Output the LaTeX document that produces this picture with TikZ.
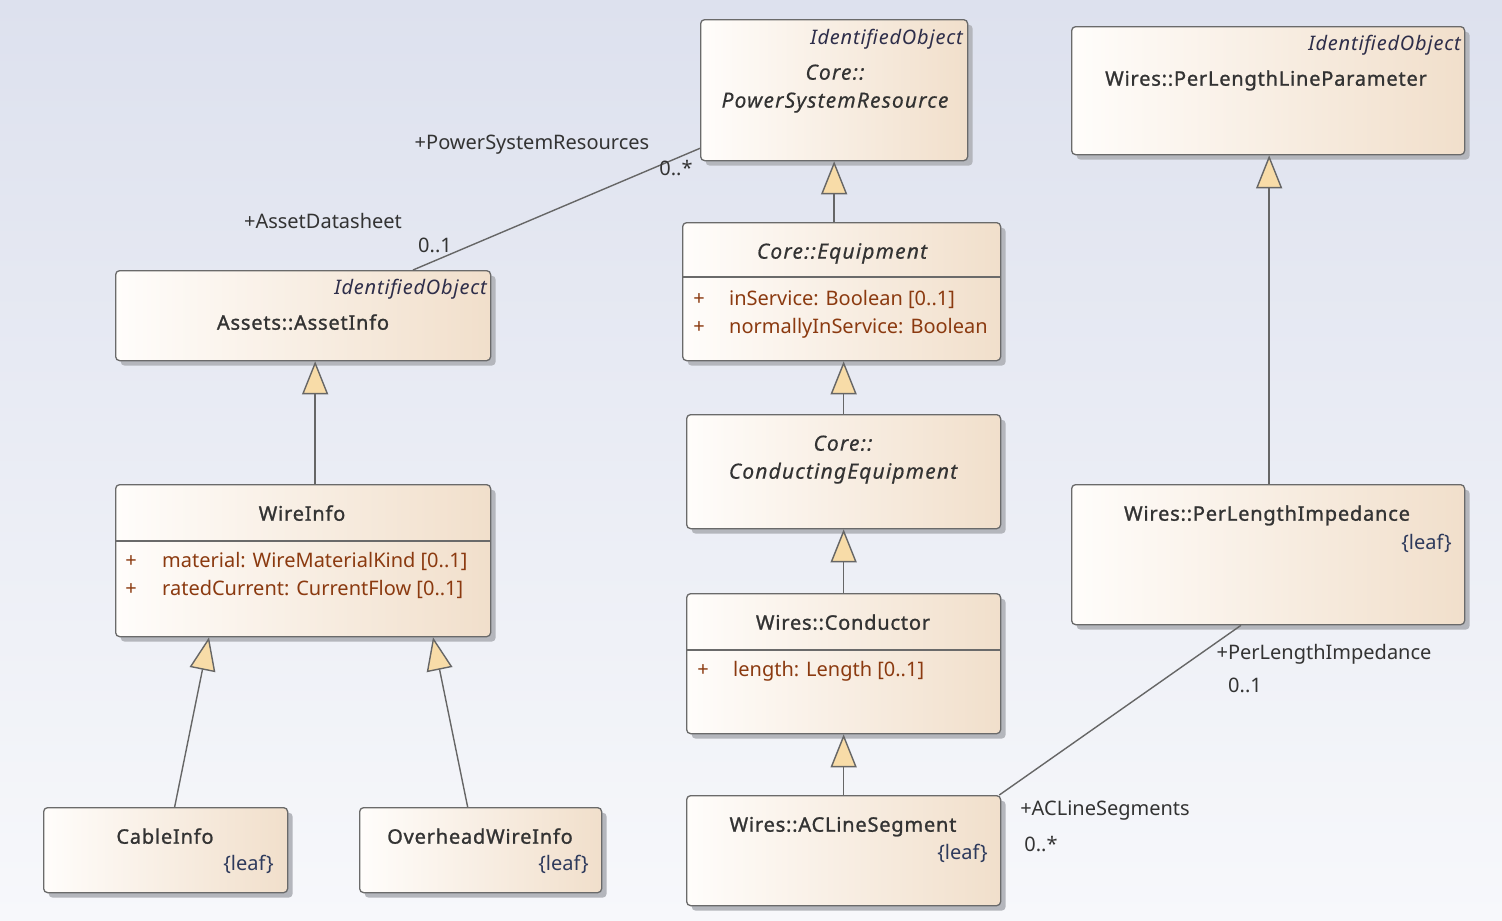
\documentclass[tikz,border=0pt]{standalone}
\usepackage{fontspec}
\setmainfont{Noto Sans}
\newfontfamily\titlefont[FakeBold=1.2, LetterSpace=4]{Noto Sans}
\newfontfamily\ititlefont[FakeBold=0.3, LetterSpace=5.5]{Noto Sans}
\newfontfamily\stereofont[LetterSpace=4]{Noto Sans}
\usetikzlibrary{arrows.meta,shadows,calc}
\definecolor{bgtop}{HTML}{DDE1EE}
\definecolor{bgbot}{HTML}{F7F8FB}
\definecolor{boxleft}{HTML}{FFFDFB}
\definecolor{boxright}{HTML}{F1DFCB}
\definecolor{boxdraw}{HTML}{6A6A6A}
\definecolor{shadowcol}{HTML}{B4B6BC}
\definecolor{titlecol}{HTML}{333333}
\definecolor{stereocol}{HTML}{2E2E4A}
\definecolor{leafcol}{HTML}{2E3A5C}
\definecolor{attrcol}{HTML}{8B3A10}
\definecolor{genfill}{HTML}{F8DCA8}
\definecolor{linecol}{HTML}{666666}

\begin{document}
\begin{tikzpicture}[x=1pt, y=-1pt,
    every node/.style={font=\fontsize{20}{24}\selectfont, inner sep=0pt},
    umlbox/.style={draw=boxdraw, line width=1.3pt, rounded corners=4pt,
      left color=boxleft, right color=boxright, anchor=north west,
      drop shadow={shadow xshift=5pt, shadow yshift=-5pt, fill=shadowcol, opacity=1}},
    txt/.style={yshift=-5pt},
    title/.style={txt, text=titlecol, anchor=mid, font=\fontsize{20}{24}\titlefont},
    ititle/.style={txt, text=titlecol, anchor=mid, font=\fontsize{21}{25}\ititlefont\itshape},
    stereo/.style={txt, text=stereocol, anchor=mid east, font=\fontsize{20}{24}\stereofont\itshape},
    leaf/.style={txt, text=leafcol, anchor=mid east},
    plus/.style={txt, text=attrcol, anchor=mid},
    attr/.style={txt, text=attrcol, anchor=mid west},
    role/.style={txt, text=titlecol, anchor=mid},
    sep/.style={draw=boxdraw, line width=1.3pt},
    gen/.style={draw=linecol, line width=1.4pt, -{Triangle[length=33pt, width=26pt, fill=genfill]}},
    assoc/.style={draw=linecol, line width=1.4pt}]

  % background
  \fill[top color=bgtop, bottom color=bgbot] (0,0) rectangle (1502,921);
  \useasboundingbox (0,0) rectangle (1502,921);

  % classes
  \node[umlbox, minimum width=267pt, minimum height=141pt] (psr) at (700,19) {};
  \node[umlbox, minimum width=318pt, minimum height=138pt] (equip) at (682,222) {};
  \node[umlbox, minimum width=314pt, minimum height=114pt] (condeq) at (686,414) {};
  \node[umlbox, minimum width=314pt, minimum height=140pt] (cond) at (686,593) {};
  \node[umlbox, minimum width=314pt, minimum height=110pt] (acls) at (686,795) {};
  \node[umlbox, minimum width=375pt, minimum height=90pt] (asset) at (115,270) {};
  \node[umlbox, minimum width=375pt, minimum height=152pt] (wire) at (115,484) {};
  \node[umlbox, minimum width=244pt, minimum height=85pt] (cable) at (43,807) {};
  \node[umlbox, minimum width=242pt, minimum height=85pt] (ohw) at (359,807) {};
  \node[umlbox, minimum width=393pt, minimum height=128pt] (pllp) at (1071,26) {};
  \node[umlbox, minimum width=393pt, minimum height=140pt] (pli) at (1071,484) {};

  % compartments
  \draw[sep] (equip.west |- 0,277) -- (equip.east |- 0,277);
  \draw[sep] (cond.west |- 0,650) -- (cond.east |- 0,650);
  \draw[sep] (wire.west |- 0,541) -- (wire.east |- 0,541);

  % texts
  \node[stereo] (psrst) at (963,37) {IdentifiedObject};
  \node[ititle] (psrpk) at (835,72) {Core::};
  \node[ititle] (psrnm) at (835,100) {PowerSystemResource};

  \node[ititle] (equipnm) at (842,251) {Core::Equipment};
  \node[plus] (equipp1) at (699,298) {+};
  \node[attr] (equipa1) at (729,298) {inService: Boolean [0..1]};
  \node[plus] (equipp2) at (699,326) {+};
  \node[attr] (equipa2) at (729,326) {normallyInService: Boolean};

  \node[ititle] (condeqpk) at (843,443) {Core::};
  \node[ititle] (condeqnm) at (843,471) {ConductingEquipment};

  \node[title] (condnm) at (843,622) {Wires::Conductor};
  \node[plus] (condp1) at (703,669) {+};
  \node[attr] (conda1) at (733,669) {length: Length [0..1]};

  \node[title] (aclsnm) at (843,824) {Wires::ACLineSegment};
  \node[leaf] (aclslf) at (988,852) {\{leaf\}};

  \node[stereo] (assetst) at (487,287) {IdentifiedObject};
  \node[title] (assetnm) at (303,322) {Assets::AssetInfo};

  \node[title] (wirenm) at (302,513) {WireInfo};
  \node[plus] (wirep1) at (131,560) {+};
  \node[attr] (wirea1) at (162,560) {material: WireMaterialKind [0..1]};
  \node[plus] (wirep2) at (131,588) {+};
  \node[attr] (wirea2) at (162,588) {ratedCurrent: CurrentFlow [0..1]};

  \node[title] (cablenm) at (165,836) {CableInfo};
  \node[leaf] (cablelf) at (274,863) {\{leaf\}};
  \node[title] (ohwnm) at (480,836) {OverheadWireInfo};
  \node[leaf] (ohwlf) at (589,863) {\{leaf\}};

  \node[stereo] (pllpst) at (1461,43) {IdentifiedObject};
  \node[title] (pllpnm) at (1266,78) {Wires::PerLengthLineParameter};

  \node[title] (plinm) at (1267,513) {Wires::PerLengthImpedance};
  \node[leaf] (plilf) at (1452,542) {\{leaf\}};

  % generalizations
  \draw[gen] (equip.north -| psr.south) -- (psr.south);
  \draw[gen] (condeq.north) -- (condeq.north |- equip.south);
  \draw[gen] (cond.north) -- (condeq.south);
  \draw[gen] (acls.north) -- (cond.south);
  \draw[gen] ($(wire.north)+(12,0)$) -- ($(asset.south)+(12,0)$);
  \draw[gen] ($(cable.north)+(9,0)$) -- ($(wire.south west)+(94,0)$);
  \draw[gen] ($(ohw.north)+(-13,0)$) -- ($(wire.south west)+(318,0)$);
  \draw[gen] ($(pli.north)+(1,0)$) -- ($(pllp.south)+(1,0)$);

  % associations
  \draw[assoc] ($(asset.north west)+(298,0)$) -- ($(psr.south west)+(0,-13)$);
  \draw[assoc] ($(acls.north east)+(-2,0)$) -- ($(pli.south west)+(170,0)$);

  % roles
  \node[role] (psrrole) at (532,142) {+PowerSystemResources};
  \node[role] (psrmul) at (676,168) {0..*};
  \node[role] (assetrole) at (323,221) {+AssetDatasheet};
  \node[role] (assetmul) at (435,245) {0..1};
  \node[role] (plirole) at (1324,652) {+PerLengthImpedance};
  \node[role] (plimul) at (1245,685) {0..1};
  \node[role] (aclsrole) at (1105,808) {+ACLineSegments};
  \node[role] (aclsmul) at (1041,844) {0..*};
\end{tikzpicture}
\end{document}
